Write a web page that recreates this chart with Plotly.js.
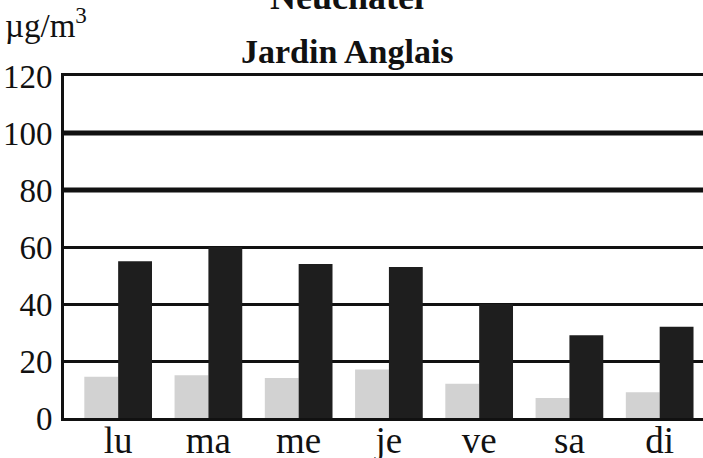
<!DOCTYPE html>
<html>
<head>
<meta charset="utf-8">
<script src="https://cdn.plot.ly/plotly-3.0.1.min.js"></script>
<style>html,body{margin:0;padding:0;background:#fff;}#chart{width:703px;height:458px;}</style>
</head>
<body>
<div id="chart"></div>
<script>
const days = ["lu", "ma", "me", "je", "ve", "sa", "di"];
const lightValues = [14.5, 15, 14, 17, 12, 7, 9];
const darkValues = [55, 60, 54, 53, 40, 29, 32];
const yTicks = [0, 20, 40, 60, 80, 100, 120];
const limitLines = [80, 100];
const titleLines = ["Neuchâtel", "Jardin Anglais"];
const unitLabel = "µg/m<sup>3</sup>";

const font = "Liberation Serif, Times New Roman, serif";

const traces = [
  {type: "bar", x: days, y: lightValues, marker: {color: "#d2d2d2", line: {width: 0}}, hoverinfo: "none"},
  {type: "bar", x: days, y: darkValues, marker: {color: "#1e1e1e", line: {width: 0}}, hoverinfo: "none"}
];

const layout = {
  width: 703, height: 458,
  margin: {l: 64, r: 0, t: 76, b: 40, pad: 0},
  paper_bgcolor: "#ffffff", plot_bgcolor: "#ffffff",
  showlegend: false,
  barmode: "group", bargap: 0.25, bargroupgap: 0,
  font: {family: font, color: "#111"},
  xaxis: {
    type: "category", categoryorder: "array", categoryarray: days,
    range: [-0.6, 6.48], showgrid: false, zeroline: false,
    showline: true, linecolor: "#111", linewidth: 3, mirror: true,
    ticks: "", tickfont: {size: 37, family: font, color: "#111"}, ticklabelstandoff: -12
  },
  yaxis: {
    range: [0, 120], tickvals: yTicks, ticktext: yTicks.map(String),
    showgrid: true, gridcolor: "#111", gridwidth: 3, zeroline: false,
    showline: true, linecolor: "#111", linewidth: 3, mirror: false,
    ticks: "", tickfont: {size: 33, family: font, color: "#111"}, ticklabelstandoff: 2
  },
  shapes: limitLines.map(v => ({type: "line", xref: "paper", yref: "y", x0: 0, x1: 1, y0: v, y1: v, line: {color: "#111", width: 5}, layer: "above"})),
  annotations: [
    {text: "<b>" + titleLines[0] + "</b>", xref: "paper", yref: "paper", x: 0.443, y: 1.232, xanchor: "center", yanchor: "middle", showarrow: false, font: {family: font, size: 36, color: "#111"}},
    {text: "<b>" + titleLines[1] + "</b>", xref: "paper", yref: "paper", x: 0.443, y: 1.072, xanchor: "center", yanchor: "middle", showarrow: false, font: {family: font, size: 34, color: "#111"}},
    {text: unitLabel, xref: "paper", yref: "paper", x: -0.095, y: 1.155, xanchor: "left", yanchor: "middle", showarrow: false, font: {family: font, size: 33, color: "#111"}}
  ]
};

Plotly.newPlot("chart", traces, layout, {staticPlot: true, displayModeBar: false});
</script>
</body>
</html>
